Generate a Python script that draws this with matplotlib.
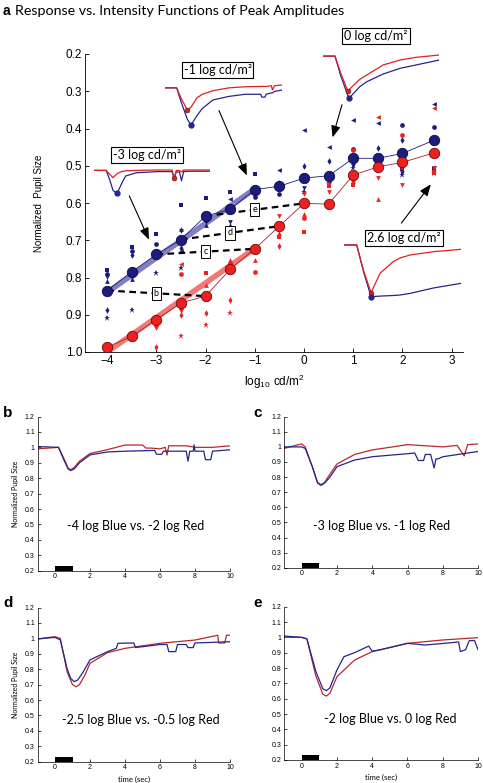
import numpy as np
import matplotlib
matplotlib.use("Agg")
import matplotlib.pyplot as plt
from matplotlib.patches import Rectangle

plt.rcParams['font.family'] = ['Liberation Sans', 'DejaVu Sans']
MYR = ['Lato', 'DejaVu Sans']

W, H = 483, 783
NAVY = '#1c1c7e'
RED = '#ee2020'
TR_BLUE = '#25258a'
TR_RED = '#b8282c'

# ---- panel a: group means (log10 cd/m2 vs normalized pupil size)
lum = [-4, -3.5, -3, -2.5, -2, -1.5, -1, -0.5, 0, 0.5, 1, 1.5, 2, 2.65]
blue_mean = [0.835, 0.785, 0.738, 0.698, 0.635, 0.617, 0.564, 0.555, 0.533, 0.527, 0.480, 0.480, 0.467, 0.431]
red_mean = [0.987, 0.958, 0.913, 0.868, 0.850, 0.778, 0.723, 0.662, 0.601, 0.603, 0.525, 0.503, 0.491, 0.465]

# individual subjects
blue_sub_x = [-4, -4, -4, -4, -4, -4,
              -3.5, -3.5, -3.5, -3.5, -3.5, -3.5,
              -3, -3, -3, -3,
              -2.5, -2.5, -2.5, -2.5, -2.5, -2.5,
              -2, -2, -2, -2,
              -1.5, -1.5, -1.5, -1.5,
              -1, -1,
              -0.5, -0.5, -0.5,
              0, 0, 0, 0,
              0.5, 0.5, 0.5, 0.5,
              1, 1, 1, 1, 1,
              1.5, 1.5, 1.5, 1.5,
              2, 2, 2, 2, 2,
              2.65, 2.65, 2.65, 2.65, 2.65]
blue_sub_y = [0.781, 0.791, 0.80, 0.81, 0.888, 0.91,
              0.718, 0.73, 0.74, 0.80, 0.805, 0.886,
              0.682, 0.709, 0.745, 0.788,
              0.606, 0.669, 0.675, 0.722, 0.73, 0.774,
              0.586, 0.645, 0.651, 0.66,
              0.570, 0.588, 0.651, 0.66,
              0.522, 0.584,
              0.512, 0.546, 0.575,
              0.404, 0.501, 0.56, 0.57,
              0.449, 0.488, 0.545, 0.55,
              0.377, 0.454, 0.49, 0.50, 0.505,
              0.386, 0.452, 0.50, 0.505,
              0.391, 0.431, 0.51, 0.52, 0.525,
              0.334, 0.395, 0.505, 0.51, 0.52]
blue_sub_m = ['s', 'o', 'v', '^', 'd', '*',
              's', 'o', 'd', 'v', '^', '*',
              's', 'o', 'v', '*',
              's', '^', 'v', 'd', '<', '*',
              's', 'o', 'v', '^',
              's', '<', 'v', '^',
              's', 'o',
              '<', 'd', 'o',
              '<', 'd', 'v', '*',
              '<', 'd', '*', 'v',
              '<', 'o', 'd', 'v', '*',
              '<', 'd', 'v', '*',
              'o', 'd', 's', 'v', '*',
              '<', 'o', 'v', 's', '*']

red_sub_x = [-3, -3, -3, -3,
             -2.5, -2.5, -2.5, -2.5, -2.5, -2.5,
             -2, -2, -2, -2,
             -1.5, -1.5, -1.5, -1.5,
             -1, -1,
             -0.5, -0.5, -0.5, -0.5,
             0, 0, 0, 0,
             0.5, 0.5, 0.5,
             1, 1, 1, 1,
             1.5, 1.5, 1.5, 1.5,
             2, 2, 2, 2,
             2.65, 2.65, 2.65, 2.65]
red_sub_y = [0.853, 0.925, 0.935, 0.987,
             0.765, 0.791, 0.88, 0.89, 0.90, 0.958,
             0.787, 0.82, 0.895, 0.927,
             0.752, 0.76, 0.861, 0.895,
             0.754, 0.785,
             0.635, 0.68, 0.69, 0.716,
             0.575, 0.63, 0.64, 0.679,
             0.55, 0.555, 0.57,
             0.458, 0.54, 0.545, 0.552,
             0.368, 0.50, 0.534, 0.588,
             0.418, 0.50, 0.505, 0.552,
             0.345, 0.505, 0.515, 0.52]
red_sub_m = ['s', '^', 'v', 'd',
             '<', 'o', '^', 'v', 'd', '*',
             's', '^', 'd', '*',
             '^', 'o', 'd', '*',
             '^', 'o',
             'v', '^', 's', 'd',
             'v', '^', 'o', 's',
             '*', 's', 'v',
             'o', '^', 'v', 's',
             '<', 'o', 'v', '^',
             'o', 's', '*', 'v',
             '<', 'v', '*', 's']

# linear fits over the low-intensity range
fit_x = [-4, -1]
blue_fit = [0.84, 0.562]
red_fit = [1.0, 0.722]

# matched blue / red pairs shown in panels b-e
pair_labels = ['b', 'c', 'd', 'e']
pair_blue = [-4, -3, -2.5, -2]
pair_red = [-2, -1, -0.5, 0]

# inset traces in panel a (time in s, normalized size)
in1_t = [-1, 0.15, 0.5, 0.8, 1.2, 1.6, 2.0, 3, 5, 6.4, 6.6, 6.8, 7.1, 7.3, 7.5, 8, 10]
in1_red = [0.97, 0.97, 0.92, 0.88, 0.93, 0.955, 0.965, 0.97, 0.975, 0.975, 0.87, 0.97, 0.97, 0.95, 0.975, 0.975, 0.975]
in1_blue = [0.97, 0.97, 0.85, 0.72, 0.684, 0.8, 0.9, 0.94, 0.955, 0.955, 0.87, 0.95, 0.95, 0.84, 0.955, 0.96, 0.96]

in2_t = [-1, 0.1, 0.5, 1.1, 1.45, 2.0, 2.5, 3.5, 5, 6.5, 8.0, 8.1, 8.4, 8.5, 9.0, 9.1, 9.3, 10]
in2_red = [0.99, 0.99, 0.85, 0.68, 0.72, 0.85, 0.9, 0.95, 0.99, 1.005, 1.01, 1.01, 1.01, 1.01, 1.02, 0.96, 1.02, 1.03]
in2_blue = [0.99, 0.99, 0.8, 0.55, 0.47, 0.6, 0.7, 0.82, 0.87, 0.9, 0.9, 0.86, 0.86, 0.9, 0.92, 0.92, 0.94, 0.96]

in3_t = [-1, 0.16, 0.7, 1.36, 1.48, 2.5, 3.15, 4.7, 6.3, 7.8, 10]
in3_red = [1.0, 1.0, 0.72, 0.434, 0.45, 0.62, 0.69, 0.855, 0.936, 0.98, 1.018]
in3_blue = [1.0, 1.0, 0.68, 0.36, 0.31, 0.50, 0.58, 0.707, 0.80, 0.855, 0.936]

in4_t = [-1, 0.17, 0.8, 1.52, 2.37, 3.62, 4.25, 5.2, 7.4, 10]
in4_red = [1.017, 1.017, 0.6, 0.222, 0.545, 0.74, 0.8, 0.85, 0.905, 0.945]
in4_blue = [1.017, 1.017, 0.58, 0.155, 0.165, 0.175, 0.183, 0.21, 0.30, 0.378]

# ---- panels b-e: pupil traces
b_blue_t = [-1, 0.2, 0.5, 0.75, 0.9, 1.1, 1.4, 2, 3, 4, 5.7, 5.8, 6.1, 6.2, 7.5, 7.6, 7.7, 7.9, 7.95, 8.0, 8.5, 8.6, 8.9, 9.0, 10]
b_blue_y = [1.005, 1.0, 0.92, 0.86, 0.849, 0.86, 0.9, 0.951, 0.97, 0.975, 0.98, 0.955, 0.955, 0.975, 0.975, 0.91, 0.975, 0.975, 1.016, 0.975, 0.975, 0.92, 0.92, 0.975, 0.984]
b_red_t = [-1, 0.2, 0.5, 0.75, 0.9, 1.1, 1.4, 2, 3, 3.5, 4, 5.0, 5.2, 5.5, 6.0, 6.3, 6.4, 6.5, 7.5, 8, 9, 10]
b_red_y = [0.99, 1.0, 0.93, 0.865, 0.855, 0.87, 0.91, 0.96, 0.985, 1.0, 1.015, 1.015, 0.995, 0.995, 0.99, 1.0, 0.95, 1.01, 1.01, 1.0, 1.0, 1.01]

c_blue_t = [-1, 0, 0.2, 0.6, 0.9, 1.1, 1.3, 1.6, 2, 3, 4, 6, 6.4, 6.6, 6.9, 7.0, 7.3, 7.5, 7.6, 7.7, 8, 10]
c_blue_y = [1.0, 1.0, 0.99, 0.87, 0.76, 0.745, 0.76, 0.8, 0.869, 0.913, 0.935, 0.955, 0.96, 0.91, 0.91, 0.95, 0.95, 0.86, 0.92, 0.92, 0.935, 0.97]
c_red_t = [-1, 0, 0.2, 0.6, 0.9, 1.1, 1.3, 1.6, 2, 3, 4, 6, 8, 8.8, 9.2, 9.4, 10]
c_red_y = [0.99, 1.02, 1.0, 0.87, 0.765, 0.75, 0.765, 0.82, 0.887, 0.95, 0.98, 1.015, 1.0, 1.01, 0.94, 1.015, 1.02]

d_blue_t = [-1, 0, 0.3, 0.7, 0.9, 1.1, 1.3, 1.6, 2, 3, 3.5, 3.6, 4.5, 4.6, 6, 6.4, 6.5, 6.9, 7.0, 7.5, 7.6, 7.9, 8.0, 10]
d_blue_y = [0.996, 1.006, 0.99, 0.8, 0.74, 0.719, 0.73, 0.78, 0.86, 0.914, 0.935, 0.968, 0.97, 0.94, 0.96, 0.96, 0.914, 0.914, 0.96, 0.96, 0.94, 0.94, 0.97, 0.978]
d_red_t = [-1, 0, 0.3, 0.7, 1.0, 1.2, 1.4, 1.7, 2, 3, 4, 6, 8, 9.3, 9.35, 9.7, 9.8, 10]
d_red_y = [0.996, 1.011, 1.0, 0.78, 0.70, 0.686, 0.70, 0.76, 0.838, 0.907, 0.935, 0.968, 0.989, 1.02, 0.97, 0.97, 1.02, 1.02]

e_blue_t = [-1, 0, 0.3, 0.8, 1.2, 1.4, 1.6, 2, 2.4, 3, 3.8, 4.0, 4.5, 6, 7, 8, 8.9, 9.0, 9.3, 9.5, 9.8, 10]
e_blue_y = [1.009, 1.0, 0.99, 0.78, 0.665, 0.652, 0.67, 0.787, 0.874, 0.9, 0.943, 0.91, 0.92, 0.961, 0.95, 0.96, 0.97, 0.907, 0.92, 0.978, 0.98, 0.92]
e_red_t = [-1, 0, 0.3, 0.8, 1.2, 1.4, 1.6, 2, 3, 4, 6, 8, 10]
e_red_y = [1.0, 1.0, 0.99, 0.75, 0.63, 0.617, 0.635, 0.743, 0.852, 0.907, 0.961, 0.983, 0.998]

sub_titles = ['-4 log Blue vs. -2 log Red', '-3 log Blue vs. -1 log Red',
              '-2.5 log Blue vs. -0.5 log Red', '-2 log Blue vs. 0 log Red']


fig = plt.figure(figsize=(W / 100, H / 100), dpi=100)


def px_axes(l, t, r, b):
    return fig.add_axes([l / W, 1 - b / H, (r - l) / W, (b - t) / H])


def px_text(x, y, s, **kw):
    return fig.text(x / W, 1 - y / H, s, **kw)


# ---------------- panel a
ax = px_axes(85, 54, 463, 352)
ax.plot(fit_x, blue_fit, color='#6a6ab8', lw=4, alpha=0.85, solid_capstyle='butt', zorder=2)
ax.plot(fit_x, red_fit, color='#f06060', lw=4, alpha=0.85, solid_capstyle='butt', zorder=2)

for xs, ys, ms, col in [(blue_sub_x, blue_sub_y, blue_sub_m, NAVY), (red_sub_x, red_sub_y, red_sub_m, RED)]:
    for m in sorted(set(ms)):
        px = [x for x, mm in zip(xs, ms) if mm == m]
        py = [y for y, mm in zip(ys, ms) if mm == m]
        ax.plot(px, py, ls='none', marker=m, ms=4.6 if m == '*' else 3.4,
                color=col, mec=col, mew=0, zorder=3)

for lab, xb, xr in zip(pair_labels, pair_blue, pair_red):
    yb = blue_mean[lum.index(xb)]
    yr = red_mean[lum.index(xr)]
    ax.plot([xb, xr], [yb, yr], color='black', lw=1.6, ls=(0, (3, 2)), zorder=4)
    ax.text((xb + xr) / 2, (yb + yr) / 2, lab, fontsize=6.5, ha='center', va='center', zorder=5,
            family=MYR, bbox=dict(boxstyle='square,pad=0.25', fc='white', ec='black', lw=0.7))

ax.plot(lum, blue_mean, color=NAVY, lw=0.6, zorder=5, marker='o', ms=7.5,
        mfc=NAVY, mec='#0a0a40', mew=0.6)
ax.plot(lum, red_mean, color='#b02020', lw=0.6, zorder=5)
ax.plot(lum, red_mean, ls='none', zorder=6, marker='o', ms=7.5,
        mfc=RED, mec='#6a0a0a', mew=0.6)

ax.set_xlim(-4.45, 3.23)
ax.set_ylim(1.0, 0.2)
ax.set_xticks(range(-4, 4))
ax.set_yticks(np.arange(0.2, 1.01, 0.1))
ax.set_yticklabels(['%.1f' % v for v in np.arange(0.2, 1.01, 0.1)])
ax.spines['top'].set_visible(False)
ax.spines['right'].set_visible(False)
ax.tick_params(direction='in', length=3, width=0.6, labelsize=8.5, pad=2)
for s in ['left', 'bottom']:
    ax.spines[s].set_linewidth(0.6)
ax.set_ylabel('Normalized  Pupil Size', fontsize=7)
ax.yaxis.set_label_coords(-0.108, 0.5)
ax.set_xlabel(r'$\mathregular{log_{10}\ cd/m^2}$', fontsize=8.5, labelpad=4)

# arrows from insets to points
arrows = [((-3.574, 0.574), (-3.128, 0.705)),
          ((-1.75, 0.345), (-1.14, 0.533)),
          ((0.787, 0.329), (0.564, 0.431)),
          ((1.943, 0.660), (2.61, 0.544))]
for (x0, y0), (x1, y1) in arrows:
    ax.annotate('', xy=(x1, y1), xytext=(x0, y0), zorder=7,
                arrowprops=dict(arrowstyle='-|>,head_length=0.7,head_width=0.28', color='black', lw=0.8))

insets = [((94, 160, 210, 200), (0.6, 1.1), in1_t, in1_red, in1_blue),
          ((165, 80, 282, 130), (0.4, 1.1), in2_t, in2_red, in2_blue),
          ((322.7, 50, 439.3, 105), (0.2, 1.1), in3_t, in3_red, in3_blue),
          ((344.3, 240, 461, 300), (0.1, 1.1), in4_t, in4_red, in4_blue)]
for box, yl, t, r, b in insets:
    ia = px_axes(*box)
    ia.plot(t, b, color=TR_BLUE, lw=0.9)
    ia.plot(t, r, color='#e02020', lw=0.9)
    ia.plot(t[int(np.argmin(r))], min(r), 'o', color='#e02020', mec='#6a0a0a', mew=0.4, ms=3.5)
    ia.plot(t[int(np.argmin(b))], min(b), 'o', color=TR_BLUE, ms=3.5)
    ia.set_xlim(-1, 10)
    ia.set_ylim(*yl)
    ia.axis('off')

inset_labels = [(147, 155, '-3 log cd/m²'), (217.5, 70, '-1 log cd/m²'),
                (376, 36, '0 log cd/m²'), (404, 238, '2.6 log cd/m²')]
for x, y, s in inset_labels:
    px_text(x, y, s, fontsize=9, family=MYR, ha='center', va='center', zorder=10,
            bbox=dict(boxstyle='square,pad=0.15', fc='white', ec='black', lw=0.8))

px_text(3, 11, 'a', fontsize=10, fontweight='bold', va='center', family=['Liberation Sans'])
px_text(15, 11, 'Response vs. Intensity Functions of Peak Amplitudes', fontsize=10.3, va='center', family=MYR)

# ---------------- panels b-e
boxes = [(37.5, 416.5, 230, 570.7), (284, 416.7, 478.3, 567.7),
         (37.5, 607.5, 230, 761.7), (284, 606.7, 478, 760)]
traces = [(b_blue_t, b_blue_y, b_red_t, b_red_y), (c_blue_t, c_blue_y, c_red_t, c_red_y),
          (d_blue_t, d_blue_y, d_red_t, d_red_y), (e_blue_t, e_blue_y, e_red_t, e_red_y)]
letters = [(3, 413, 'b'), (253, 413, 'c'), (3, 603, 'd'), (253, 603, 'e')]
title_x = [0.51, 0.5, 0.535, 0.548]
title_y = [0.29, 0.275, 0.27, 0.265]
for i, (box, tr, title, let) in enumerate(zip(boxes, traces, sub_titles, letters)):
    a = px_axes(*box)
    bt, by, rt, ry = tr
    a.plot(rt, ry, color=TR_RED, lw=0.9)
    a.plot(bt, by, color=TR_BLUE, lw=0.9)
    a.add_patch(Rectangle((0, 0.2), 1, 0.032, color='black', lw=0))
    a.set_xlim(-1, 10)
    a.set_ylim(0.2, 1.2)
    a.set_xticks(range(0, 11, 2))
    yt = np.round(np.arange(0.2, 1.21, 0.1), 1)
    a.set_yticks(yt)
    a.set_yticklabels(['1' if v == 1 else '%g' % v for v in yt])
    a.spines['top'].set_visible(False)
    a.spines['right'].set_visible(False)
    for s in ['left', 'bottom']:
        a.spines[s].set_linewidth(0.5)
    a.tick_params(direction='in', length=2, width=0.5, labelsize=5, pad=2)
    a.text(title_x[i], title_y[i], title, transform=a.transAxes, fontsize=9,
           family=MYR, ha='center', va='center')
    if i % 2 == 0:
        a.set_ylabel('Normalized Pupil Size', fontsize=5, family=MYR, labelpad=4)
    if i >= 2:
        a.set_xlabel('time (sec)', fontsize=5.5, family=MYR, labelpad=3)
    px_text(let[0], let[1], let[2], fontsize=11, fontweight='bold', va='center',
            family=['Liberation Sans'])

fig.savefig('out.png', dpi=100)
